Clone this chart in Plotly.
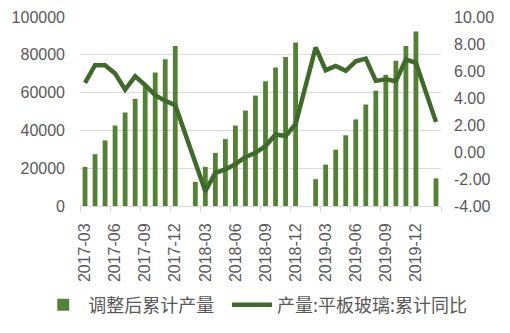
import plotly.graph_objects as go

months = []
for y in (2017, 2018, 2019, 2020):
    for m in range(1, 13):
        if (y == 2017 and m < 3) or (y == 2020 and m > 2):
            continue
        months.append(f"{y}-{m:02d}")

bar_values = [20700, 27400, 34700, 42600, 49500, 56700, 63200, 70700, 77700, 84600,
              None, 12800, 20700, 28100, 35400, 42600, 50500, 58400, 66000, 73300, 78900, 86500,
              None, 14200, 21900, 29800, 37400, 45800, 53700, 61000, 69500, 76800, 84600, 92300,
              None, 14600]

line_values = [5.12, 6.43, 6.43, 5.81, 4.63, 5.61, 4.95, 4.21, 3.79, 3.47,
               None, None, -2.9, -1.54, -1.29, -0.9, -0.36, -0.06, 0.44, 1.30, 1.18, 2.06,
               None, 7.74, 6.06, 6.38, 6.01, 6.72, 6.92, 5.27, 5.39, 5.24, 6.85, 6.6,
               None, 2.23]

bar_name = "调整后累计产量"
line_name = "产量:平板玻璃:累计同比"

left_ticks = [0, 20000, 40000, 60000, 80000, 100000]
right_ticks = [-4, -2, 0, 2, 4, 6, 8, 10]

x = list(range(len(months)))
label_idx = [i for i, mo in enumerate(months) if int(mo[-2:]) % 3 == 0]

fig = go.Figure()
fig.add_trace(go.Bar(x=x, y=bar_values, name=bar_name, marker_color="#548235",
                     marker_line_width=0, legend="legend"))
fig.add_trace(go.Scatter(x=x, y=line_values, name=line_name, yaxis="y2", mode="lines",
                         connectgaps=True, legend="legend2",
                         line=dict(color="#3f6b2a", width=4.5)))

tick_font = dict(family="Liberation Sans, Arial, sans-serif", size=16, color="#595959")
legend_font = dict(family="Noto Sans CJK SC, sans-serif", size=18, color="#595959")

fig.update_layout(
    width=510, height=333,
    margin=dict(l=80, r=69, t=17, b=127, autoexpand=False),
    paper_bgcolor="white", plot_bgcolor="white",
    bargap=0.52,
    showlegend=True,
    legend=dict(orientation="h", xref="container", yref="container",
                x=0.075, xanchor="left", y=0.084, yanchor="middle",
                font=legend_font, itemwidth=40, bgcolor="rgba(0,0,0,0)"),
    legend2=dict(orientation="h", xref="container", yref="container",
                 x=0.445, xanchor="left", y=0.084, yanchor="middle",
                 font=legend_font, itemwidth=40, bgcolor="rgba(0,0,0,0)"),
    xaxis=dict(
        range=[-0.5, len(months) - 0.5],
        tickmode="array",
        tickvals=label_idx,
        ticktext=[months[i] for i in label_idx],
        tickangle=-90,
        tickfont=tick_font,
        ticks="",
        ticklabelstandoff=10,
        showgrid=False,
        showline=True, linecolor="#d9d9d9", linewidth=1,
        minor=dict(tickmode="array", tickvals=[i - 0.5 for i in label_idx] + [len(months) - 0.5],
                   ticks="outside", ticklen=5, tickcolor="#d9d9d9", showgrid=False),
        zeroline=False,
        automargin=False,
    ),
    yaxis=dict(
        range=[0, 100000],
        tickmode="array", tickvals=left_ticks,
        ticktext=[str(v) for v in left_ticks],
        tickfont=tick_font,
        showgrid=True, gridcolor="#d9d9d9", gridwidth=1,
        zeroline=False, showline=False,
        ticklabelstandoff=14,
        automargin=False,
    ),
    yaxis2=dict(
        range=[-4, 10],
        overlaying="y", side="right",
        tickmode="array", tickvals=right_ticks,
        ticktext=[f"{v:.2f}" for v in right_ticks],
        tickfont=tick_font,
        showgrid=False, zeroline=False, showline=False,
        ticklabelstandoff=12,
        automargin=False,
    ),
)

fig.write_html("out.html")
